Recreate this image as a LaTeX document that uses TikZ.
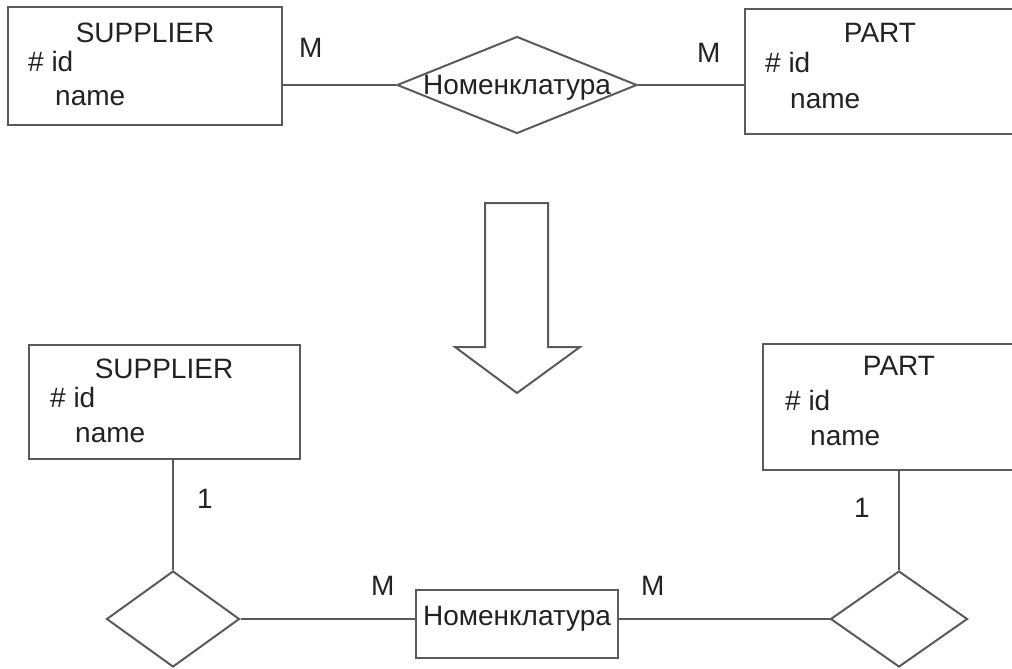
\documentclass[tikz,border=0pt]{standalone}
\usepackage{fontspec}
\setmainfont{Liberation Sans}
\usetikzlibrary{shapes.geometric}
\definecolor{ink}{HTML}{222222}
\definecolor{edge}{HTML}{5A5A5A}
\begin{document}
\begin{tikzpicture}[x=1pt,y=-1pt,
  every node/.style={text=ink},
  lbl/.style={inner sep=0pt, font=\fontsize{28}{33}\selectfont},
  entity/.style={draw=edge, line width=2pt, rectangle, inner sep=0pt, fill=white},
  relship/.style={draw=edge, line width=2pt, diamond, inner sep=0pt},
  link/.style={draw=edge, line width=2pt},
  bigarrow/.style={draw=edge, line width=2pt, line join=miter, fill=white}]
\useasboundingbox (0,0) rectangle (1012,669);
\clip (0,0) rectangle (1012,669);

% ---------- upper schema: many-to-many relationship ----------
\node[entity, minimum width=274pt, minimum height=118pt] (supA) at (145,66) {};
\node[entity, minimum width=295pt, minimum height=125pt] (partA) at (892.5,71.5) {};
\node[relship, minimum width=240pt, minimum height=97pt] (relA) at (517,85) {};

\draw[link] (relA.west) -- (relA.west -| supA.east);
\draw[link] (relA.east) -- (relA.east -| partA.west);

\node[lbl, anchor=base] (supAt) at (145,43) {SUPPLIER};
\node[lbl, anchor=base west] (supAid) at (28,72) {\# id};
\node[lbl, anchor=base west] (supAnm) at (55,105) {name};
\node[lbl, anchor=base] (partAt) at (880,43) {PART};
\node[lbl, anchor=base west] (partAid) at (765,73) {\# id};
\node[lbl, anchor=base west] (partAnm) at (790,108) {name};
\node[lbl, anchor=base] (relAt) at (517,95) {Номенклатура};
\node[lbl, anchor=base west] (mA1) at (299,58) {M};
\node[lbl, anchor=base west] (mA2) at (697,63) {M};

% ---------- transformation arrow ----------
\coordinate (arrTopL) at (485,203);
\coordinate (arrTopR) at (548,203);
\coordinate (arrTip) at (517,393);
\draw[bigarrow] (arrTopL) -- (arrTopR) -- (548,347) -- (580,347) -- (arrTip)
  -- (455,347) -- (485,347) -- cycle;

% ---------- lower schema: associative entity ----------
\node[entity, minimum width=271pt, minimum height=114pt] (supB) at (164.5,402) {};
\node[entity, minimum width=277pt, minimum height=126pt] (partB) at (901.5,407) {};
\node[relship, minimum width=133pt, minimum height=96pt] (relL) at (173,619) {};
\node[relship, minimum width=137pt, minimum height=96pt] (relR) at (899,619) {};
\node[entity, minimum width=202pt, minimum height=68pt] (nom) at (517,624) {};

\draw[link] (relL.north) -- (relL.north |- supB.south);
\draw[link] (relR.north) -- (relR.north |- partB.south);
\draw[link] (relL.east) -- (relL.east -| nom.west);
\draw[link] (relR.west) -- (relR.west -| nom.east);

\node[lbl, anchor=base] (supBt) at (164,378) {SUPPLIER};
\node[lbl, anchor=base west] (supBid) at (50,407) {\# id};
\node[lbl, anchor=base west] (supBnm) at (75,442) {name};
\node[lbl, anchor=base] (partBt) at (899,375) {PART};
\node[lbl, anchor=base west] (partBid) at (785,410) {\# id};
\node[lbl, anchor=base west] (partBnm) at (810,445) {name};
\node[lbl, anchor=base] (nomt) at (517,625) {Номенклатура};
\node[lbl, anchor=base west] (oneL) at (197,508) {1};
\node[lbl, anchor=base west] (oneR) at (854,517) {1};
\node[lbl, anchor=base west] (mB1) at (371,595) {M};
\node[lbl, anchor=base west] (mB2) at (641,595) {M};
\end{tikzpicture}
\end{document}
